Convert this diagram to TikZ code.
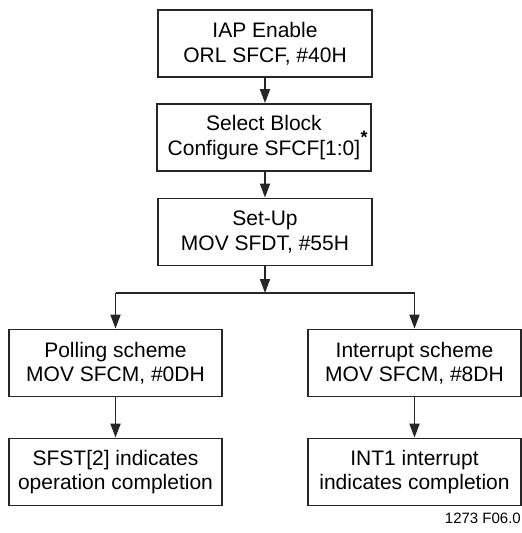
\documentclass[tikz,border=0pt]{standalone}
\usepackage{fontspec}
\setmainfont{Liberation Sans}
\usetikzlibrary{arrows.meta}
\begin{document}
\begin{tikzpicture}[x=1pt,y=-1pt,
  box/.style={draw=black!85, line width=1.8pt, minimum width=214pt, minimum height=67pt, inner sep=0pt, align=center, font=\fontsize{21}{24.5}\selectfont},
  conn/.style={draw=black!85, line width=1.8pt, -{Triangle[length=14pt,width=10pt]}},
  seg/.style={draw=black!85, line width=1.8pt}]
\useasboundingbox (0,0) rectangle (522,533);
\node[box] (b1) at (265,43.5) {IAP Enable\\ORL SFCF, \#40H};
\node[box] (b2) at (264,137.5) {Select Block\\Configure SFCF[1:0]};
\node[box] (b3) at (265,232) {Set-Up\\MOV SFDT, \#55H};
\node[box, minimum width=213pt] (p1) at (115.5,363) {Polling scheme\\MOV SFCM, \#0DH};
\node[box, minimum width=213pt] (i1) at (414.5,363) {Interrupt scheme\\MOV SFCM, \#8DH};
\node[box, minimum width=213pt] (p2) at (115.5,472) {SFST[2] indicates\\operation completion};
\node[box, minimum width=213pt] (i2) at (414.5,472) {INT1 interrupt\\indicates completion};
\node[font=\fontsize{18}{18}\bfseries, inner sep=0pt] (ast) at (364,137) {*};
\node[font=\fontsize{15}{17}\selectfont, anchor=base east, inner sep=0pt] (lbl) at (521,523.5) {1273 F06.0};
\coordinate (j) at (265,293);
\coordinate (jl) at (115.5,293);
\coordinate (jr) at (414.5,293);
\draw[conn] (b1) -- (b2.north -| b1);
\draw[conn] (b2.south -| b3) -- (b3);
\draw[conn] (b3) -- (j);
\draw[seg] (jl) -- (jr);
\draw[conn] (jl) -- (p1);
\draw[conn] (jr) -- (i1);
\draw[conn] (p1) -- (p2);
\draw[conn] (i1) -- (i2);
\end{tikzpicture}
\end{document}
